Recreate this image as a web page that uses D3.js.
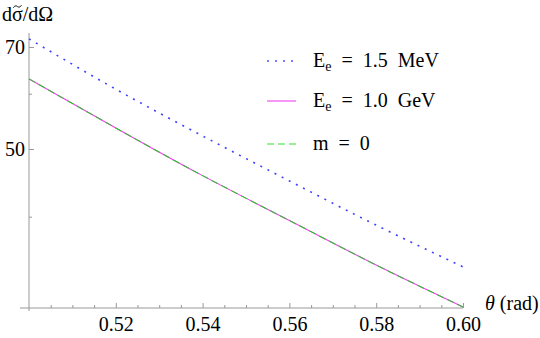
<!DOCTYPE html>
<html>
<head>
<meta charset="utf-8">
<script src="https://cdn.jsdelivr.net/npm/d3@7"></script>
<style>
  body { margin: 0; background: #fff; }
  svg text { font-family: "Liberation Serif", "Times New Roman", "DejaVu Serif", serif; fill: #000; }
</style>
</head>
<body>
<svg width="540" height="338"></svg>
<script>
var theta = [0.50, 0.52, 0.54, 0.56, 0.58, 0.60];
var mev15 = [71.9, 60.9, 52.2, 45.0, 38.9, 33.9];
var gev10 = [63.0, 53.6, 45.8, 39.5, 34.1, 29.7];
var massless = [63.0, 53.6, 45.8, 39.5, 34.1, 29.7];
var xMajor = [0.52, 0.54, 0.56, 0.58, 0.60];
var yMajor = [50, 70];
var yMinor = [40, 60];
var legendLabels = [
  ["E", "e", "\u2002=\u20021.5\u2002MeV"],
  ["E", "e", "\u2002=\u20021.0\u2002GeV"],
  ["m\u2002=\u20020", "", ""]
];

var serif = "'Liberation Serif', 'Times New Roman', 'DejaVu Serif', serif";
var svg = d3.select("svg").attr("font-family", serif);
var axisColor = "#999";

var x = d3.scaleLinear().domain([0.50, 0.60]).range([29, 463]);
var y = d3.scaleLog().domain([29.6, 73.3]).range([308, 33]);

// axis lines
svg.append("line")
  .attr("x1", 20).attr("x2", x(0.60))
  .attr("y1", y(29.6)).attr("y2", y(29.6))
  .attr("stroke", axisColor);
svg.append("line")
  .attr("x1", x(0.50)).attr("x2", x(0.50))
  .attr("y1", y(73.3)).attr("y2", y(29.6) + 3)
  .attr("stroke", axisColor);

var xMinor = d3.range(0.505, 0.6001, 0.005).filter(function(d){
  return Math.abs(Math.round(d * 50) - d * 50) > 1e-6;
});

var gx = svg.append("g").attr("transform", "translate(0," + y(29.6) + ")");
gx.call(d3.axisBottom(x).tickValues(xMajor).tickSize(-5).tickPadding(9)
  .tickFormat(d3.format(".2f")));
var gxm = svg.append("g").attr("transform", "translate(0," + y(29.6) + ")");
gxm.call(d3.axisBottom(x).tickValues(xMinor).tickSize(-3).tickFormat(""));

var gy = svg.append("g").attr("transform", "translate(" + x(0.50) + ",0)");
gy.call(d3.axisLeft(y).tickValues(yMajor).tickSize(-5).tickPadding(4)
  .tickFormat(d3.format("d")));
var gym = svg.append("g").attr("transform", "translate(" + x(0.50) + ",0)");
gym.call(d3.axisLeft(y).tickValues(yMinor).tickSize(-3).tickFormat(""));

svg.selectAll("g").attr("font-family", serif).attr("font-size", 20);
svg.selectAll(".domain").remove();
svg.selectAll(".tick line").attr("stroke", axisColor);
svg.selectAll(".tick text").attr("fill", "#000");
gx.selectAll(".tick text").attr("dy", "0.71em");

// titles
var yt = svg.append("text").attr("x", 2).attr("y", 21).style("font-size", "20px")
  .text("d\u03C3/d\u03A9");
// tilde accent over sigma, drawn as a small wave
var box = yt.node().getExtentOfChar(1);
var cx = box.x + box.width / 2, ty = 21 - 14.5;
svg.append("path")
  .attr("d", "M" + (cx - 4) + "," + (ty + 1.2) +
    " C" + (cx - 2.5) + "," + (ty - 1.5) + " " + (cx - 0.5) + "," + (ty - 0.5) + " " + cx + "," + ty +
    " S" + (cx + 2.5) + "," + (ty + 1.5) + " " + (cx + 4) + "," + (ty - 1.2))
  .attr("fill", "none").attr("stroke", "#000").attr("stroke-width", 1);

var xt = svg.append("text").attr("x", 485).attr("y", 310).style("font-size", "20px");
xt.append("tspan").style("font-style", "italic").text("\u03B8");
xt.append("tspan").text(" (rad)");

// curves
var line = d3.line()
  .x(function(d){ return x(d[0]); })
  .y(function(d){ return y(d[1]); })
  .curve(d3.curveNatural);

function pts(vals){ return theta.map(function(t, i){ return [t, vals[i]]; }); }

var series = [
  {vals: gev10, color: "#f040f0", dash: null, width: 1.1},
  {vals: massless, color: "#30c030", dash: "7,4", width: 1.1},
  {vals: mev15, color: "#4040ff", dash: "2,6", width: 1.6}
];

series.forEach(function(s){
  svg.append("path")
    .datum(pts(s.vals))
    .attr("d", line)
    .attr("fill", "none")
    .attr("stroke", s.color)
    .attr("stroke-width", s.width)
    .attr("stroke-dasharray", s.dash);
});

// legend
var legendStyles = [
  {color: "#5050ff", dash: "2,6", width: 1.6},
  {color: "#f040f0", dash: null, width: 1.1},
  {color: "#30e030", dash: "7,4", width: 1.1}
];
var legendY = [61, 101, 144];

legendLabels.forEach(function(lab, i){
  svg.append("line")
    .attr("x1", 267).attr("x2", 296)
    .attr("y1", legendY[i]).attr("y2", legendY[i])
    .attr("stroke", legendStyles[i].color)
    .attr("stroke-width", legendStyles[i].width)
    .attr("stroke-dasharray", legendStyles[i].dash);
  var t = svg.append("text").attr("x", 313).attr("y", legendY[i] + 6)
    .style("font-size", "20px");
  t.append("tspan").text(lab[0]);
  if (lab[1]) {
    t.append("tspan").attr("dy", 4).style("font-size", "14px").text(lab[1]);
    t.append("tspan").attr("dy", -4).text(lab[2]);
  }
});
</script>
</body>
</html>
